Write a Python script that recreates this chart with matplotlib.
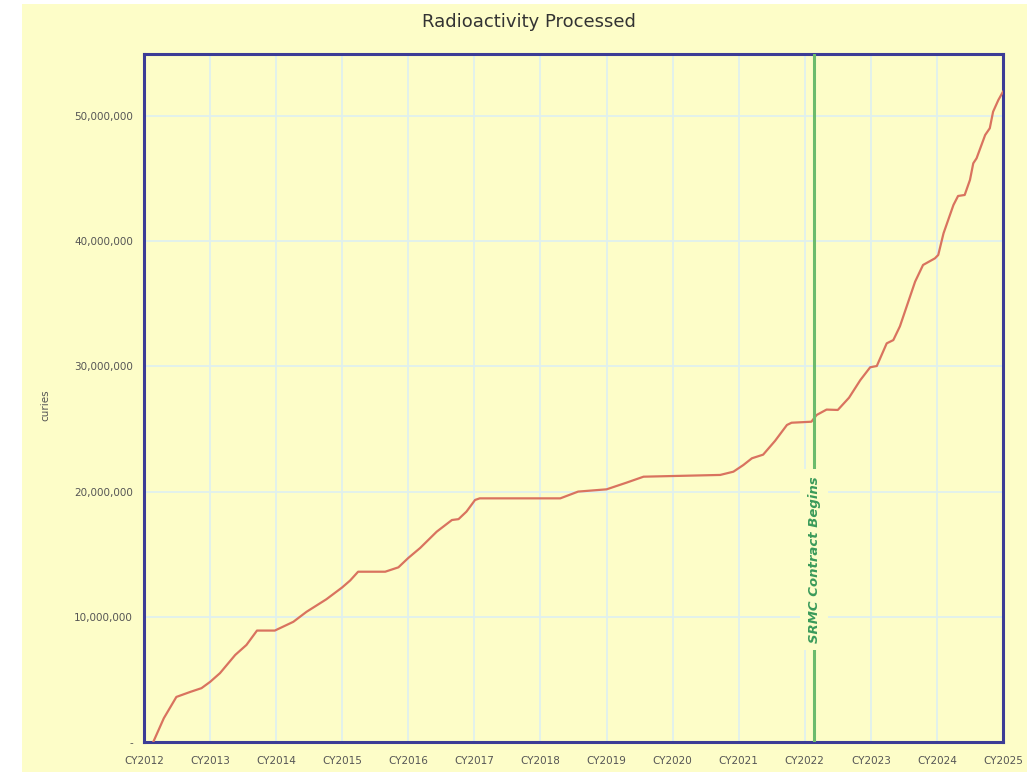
import matplotlib
matplotlib.use('Agg')
import matplotlib.pyplot as plt
from matplotlib.patches import Rectangle
from matplotlib.ticker import FuncFormatter

# Datos (anio, curies)
anio = [2012.14, 2012.30, 2012.49, 2012.70, 2012.87, 2013.00, 2013.15, 2013.38, 2013.55,
        2013.71, 2013.98, 2014.26, 2014.46, 2014.76, 2015.00, 2015.12, 2015.24, 2015.65,
        2015.85, 2016.00, 2016.18, 2016.43, 2016.66, 2016.76, 2016.88, 2017.01, 2017.08,
        2018.30, 2018.57, 2019.00, 2019.30, 2019.56, 2020.72, 2020.92, 2021.07, 2021.20,
        2021.37, 2021.55, 2021.73, 2021.80, 2022.10, 2022.18, 2022.33, 2022.50, 2022.67,
        2022.84, 2022.99, 2023.09, 2023.24, 2023.34, 2023.44, 2023.67, 2023.79, 2023.97,
        2024.02, 2024.10, 2024.25, 2024.32, 2024.42, 2024.50, 2024.55, 2024.60, 2024.73,
        2024.80, 2024.85, 2024.93, 2025.00]
curies_M = [0.0, 1.9, 3.6, 4.0, 4.3, 4.8, 5.5, 6.95, 7.75,
            8.9, 8.9, 9.6, 10.4, 11.4, 12.35, 12.9, 13.6, 13.6,
            13.95, 14.7, 15.5, 16.8, 17.73, 17.8, 18.4, 19.33, 19.46,
            19.46, 20.0, 20.18, 20.71, 21.19, 21.33, 21.59, 22.12, 22.66,
            22.95, 24.05, 25.32, 25.5, 25.58, 26.12, 26.55, 26.52, 27.5,
            28.9, 29.93, 30.03, 31.84, 32.1, 33.2, 36.77, 38.1, 38.63,
            38.9, 40.63, 42.89, 43.61, 43.69, 44.89, 46.22, 46.62, 48.48,
            49.02, 50.34, 51.28, 51.94]
curies = [v * 1e6 for v in curies_M]

anios_ticks = list(range(2012, 2026))
etiquetas_x = ['CY%d' % a for a in anios_ticks]
y_ticks = [0, 10e6, 20e6, 30e6, 40e6, 50e6]
inicio_srmc = 2022.14

fondo = '#fdfdc8'
fig = plt.figure(figsize=(10.27, 7.74), dpi=100)
fig.patches.append(Rectangle((22/1027, 2/774), 1 - 22/1027, 1 - 6/774,
                             transform=fig.transFigure, facecolor=fondo,
                             edgecolor='none', zorder=-10))
ax = fig.add_axes([144/1027, 32/774, 859/1027, 688/774])
ax.set_facecolor(fondo)

ax.plot(anio, curies, color='#d9735f', lw=1.6, zorder=3)

# linea del contrato
ax.axvline(inicio_srmc, color='#6cbb6c', lw=2.2, zorder=4)
ax.text(inicio_srmc, 14.6e6, 'SRMC Contract Begins', rotation=90, ha='center', va='center',
        color='#3a9a5a', fontsize=9.5, fontstyle='italic', fontweight='bold', zorder=5,
        bbox=dict(boxstyle='square,pad=0.55', facecolor=fondo, edgecolor='none'))

ax.set_xlim(2012, 2025)
ax.set_ylim(0, 54.95e6)
ax.set_xticks(anios_ticks)
ax.set_xticklabels(etiquetas_x)
ax.set_yticks(y_ticks)
ax.yaxis.set_major_formatter(FuncFormatter(lambda v, p: '-' if v == 0 else '{:,.0f}'.format(v)))
ax.tick_params(length=0, labelsize=7.5, labelcolor='#555555', pad=8)
ax.tick_params(axis='x', pad=10)
ax.grid(True, color='#e0f0ee', lw=1.3, zorder=0)
ax.set_axisbelow(True)
for s in ax.spines.values():
    s.set_color('#3c3c96')
    s.set_linewidth(2.2)

fig.text(45/1027, 1 - 405/774, 'curies', rotation=90, ha='center', va='center',
         fontsize=7.5, color='#555555')
fig.text(529/1027, 1 - 22/774, 'Radioactivity Processed', ha='center', va='center',
         fontsize=13, color='#333333')

plt.savefig('out.png', dpi=100, facecolor='white')
